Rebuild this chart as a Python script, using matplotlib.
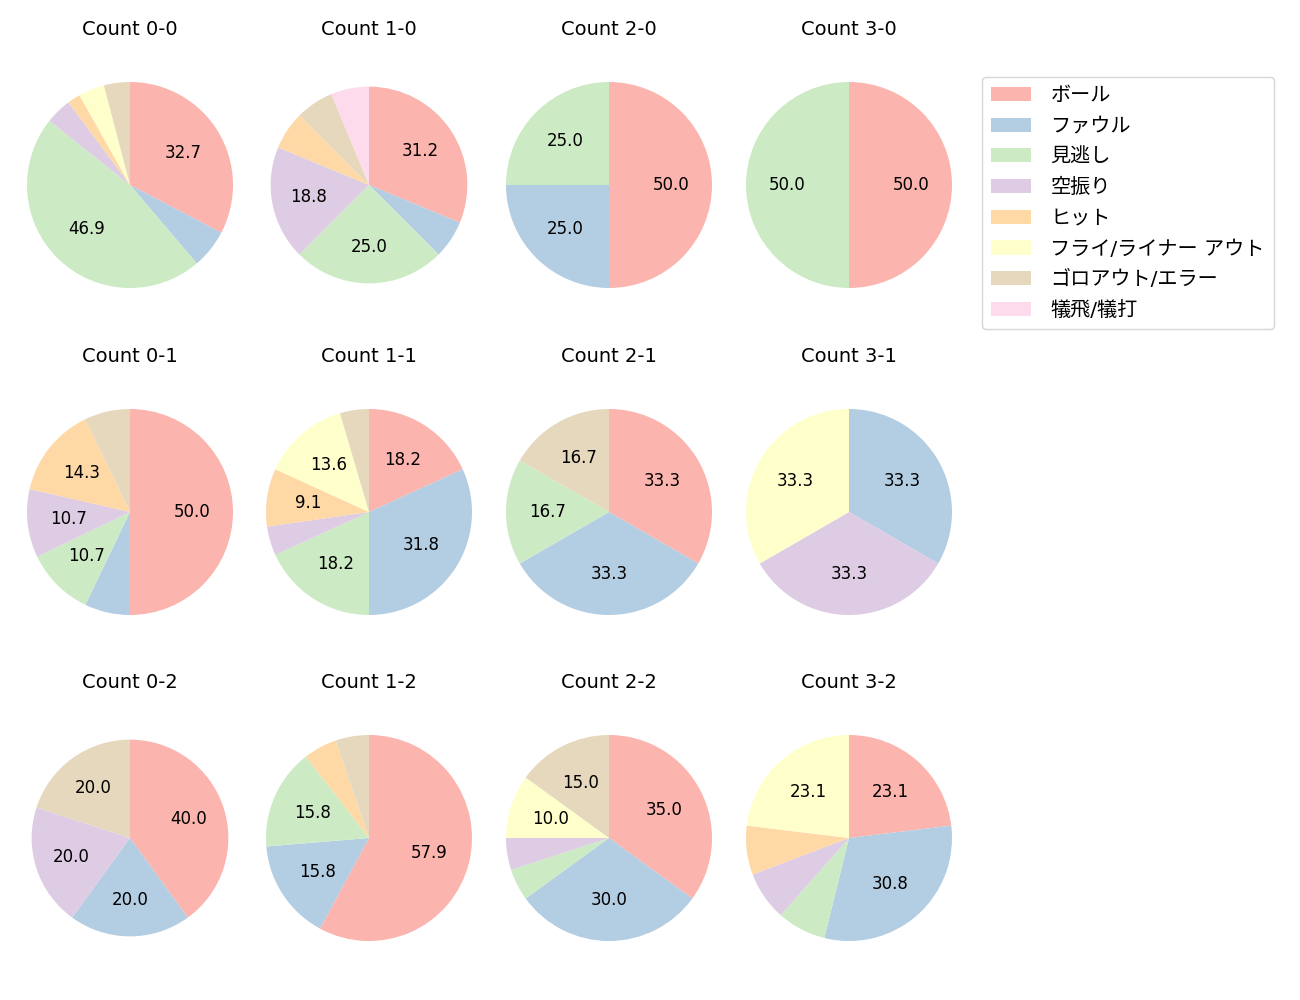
import numpy as np
import matplotlib
matplotlib.use("Agg")
import matplotlib.pyplot as plt
from matplotlib.patches import Patch

plt.rcParams['font.family'] = ['DejaVu Sans', 'Noto Sans CJK JP']

categories = ['ボール', 'ファウル', '見逃し', '空振り', 'ヒット',
              'フライ/ライナー アウト', 'ゴロアウト/エラー', '犠飛/犠打']

# pitch counts per ball-strike count, in category order
counts = {
    '0-0': [16, 3, 23, 2, 1, 2, 2, 0],
    '1-0': [5, 1, 4, 3, 1, 0, 1, 1],
    '2-0': [2, 1, 1, 0, 0, 0, 0, 0],
    '3-0': [1, 0, 1, 0, 0, 0, 0, 0],
    '0-1': [14, 2, 3, 3, 4, 0, 2, 0],
    '1-1': [4, 7, 4, 1, 2, 3, 1, 0],
    '2-1': [2, 2, 1, 0, 0, 0, 1, 0],
    '3-1': [0, 1, 0, 1, 0, 1, 0, 0],
    '0-2': [2, 1, 0, 1, 0, 0, 1, 0],
    '1-2': [11, 3, 3, 0, 1, 0, 1, 0],
    '2-2': [7, 6, 1, 1, 0, 2, 3, 0],
    '3-2': [3, 4, 1, 1, 1, 3, 0, 0],
}
# two of the pies come out a little smaller in the original
small = ['1-0', '0-2']

colors = plt.get_cmap('Pastel1').colors[:8]

fig = plt.figure(figsize=(13, 10), dpi=100)
W, H = 1300, 1000
size = 257.5
col_x = [130, 369, 609, 849]
row_y = [185, 512, 838]

for key, vals in counts.items():
    b, s = int(key[0]), int(key[2])
    cx, cy = col_x[b], row_y[s]
    ax = fig.add_axes([(cx - size / 2) / W, 1 - (cy + size / 2) / H, size / W, size / H])
    vals = np.array(vals, dtype=float)
    r = 0.955 if key in small else 1.0
    ax.pie(vals, colors=colors, startangle=90, counterclock=False, radius=r,
           autopct=lambda p: f'{p:.1f}' if p >= 8 else '',
           pctdistance=0.6 / r if r < 1 else 0.6,
           textprops={'fontsize': 12})
    ax.set_xlim(-1.25, 1.25)
    ax.set_ylim(-1.25, 1.25)
    ax.set_title(f'Count {key}', fontsize=14, pad=15)

leg_handles = [Patch(facecolor=c) for c in colors]
fig.legend(leg_handles, categories, loc='upper left',
           bbox_to_anchor=(982 / W, 1 - 77 / H), fontsize=14.5,
           borderaxespad=0, labelspacing=0.58, handletextpad=0.95,
           borderpad=0.45)

fig.savefig('out.png', dpi=100)
